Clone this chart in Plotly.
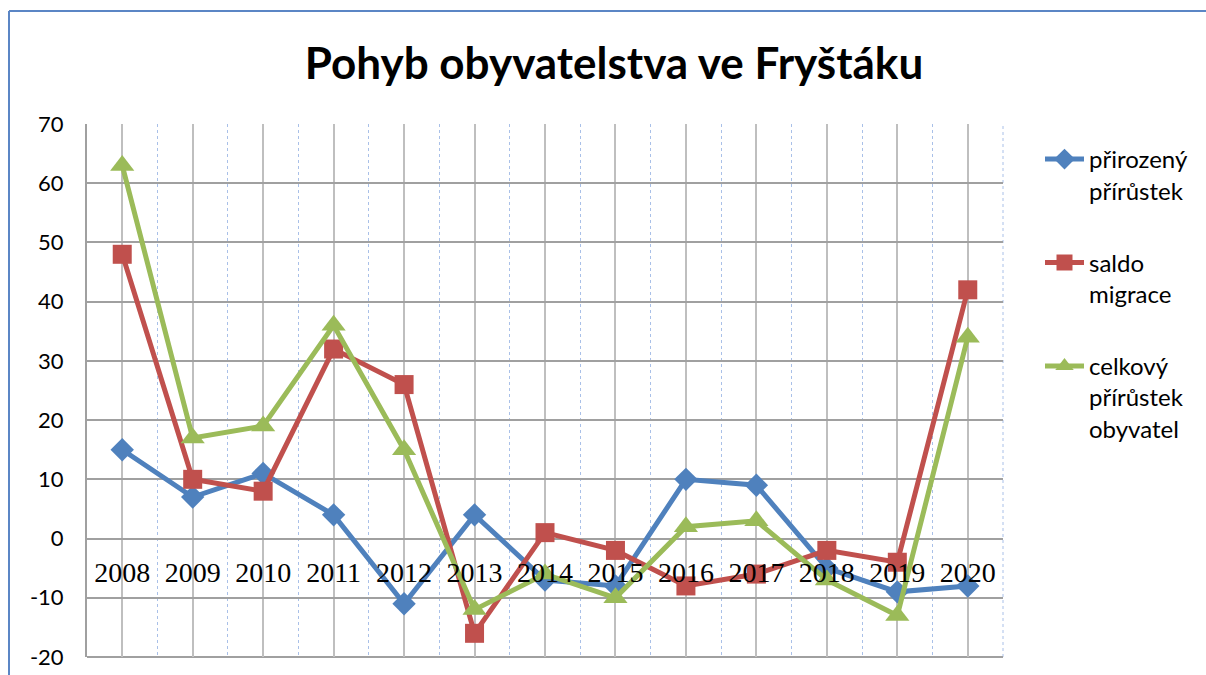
import plotly.graph_objects as go

years = ["2008", "2009", "2010", "2011", "2012", "2013", "2014",
         "2015", "2016", "2017", "2018", "2019", "2020"]
prirozeny = [15, 7, 11, 4, -11, 4, -7, -8, 10, 9, -5, -9, -8]
saldo = [48, 10, 8, 32, 26, -16, 1, -2, -8, -6, -2, -4, 42]
celkovy = [63, 17, 19, 36, 15, -12, -6, -10, 2, 3, -7, -13, 34]
series_names = ["přirozený<br>přírůstek", "saldo<br>migrace", "celkový<br>přírůstek<br>obyvatel"]
y_ticks = [-20, -10, 0, 10, 20, 30, 40, 50, 60, 70]
y_labels = ["-20", "-10", "0", "10", "20", "30", "40", "50", "60", "70"]

xs = list(range(len(years)))

colors = ["#4F81BD", "#C0504D", "#9BBB59"]
symbols = ["diamond", "square", "triangle-up"]
sizes = [18, 19, 21]

fig = go.Figure()
for i, (name, vals) in enumerate(zip(series_names, [prirozeny, saldo, celkovy])):
    fig.add_trace(go.Scatter(
        x=xs, y=vals, name=name, mode="lines+markers",
        legendgroup=f"g{i}",
        line=dict(color=colors[i], width=5),
        marker=dict(symbol=symbols[i], size=sizes[i], color=colors[i]),
    ))

W, H = 1206, 675
L, R, T, B = 87, 1003, 124, 657

fig.update_layout(
    width=W, height=H,
    margin=dict(l=L, r=W - R, t=T, b=H - B, autoexpand=False),
    paper_bgcolor="white", plot_bgcolor="white",
    font=dict(family="Lato", color="black"),
    title=dict(text="<b>Pohyb obyvatelstva ve Fryštáku</b>",
               font=dict(size=44, family="Lato", color="black"),
               x=614 / W, xanchor="center", y=1 - 64 / H, yanchor="middle"),
    showlegend=True,
    legend=dict(x=(1040 - L) / (R - L), xanchor="left",
                y=(B - 137) / (B - T), yanchor="top",
                font=dict(size=24, family="Lato", color="black"),
                itemwidth=39,
                valign="top", tracegroupgap=38, bgcolor="rgba(0,0,0,0)"),
    xaxis=dict(
        range=[-0.5, len(years) - 0.5],
        tickvals=xs, ticktext=years,
        anchor="free", position=20 / 90, automargin=False,
        showline=False, zeroline=False,
        showgrid=True, gridcolor="#BFBFBF", gridwidth=2,
        ticks="", ticklabelstandoff=14,
        tickfont=dict(family="Liberation Serif", size=28, color="black"),
        minor=dict(tickvals=[x + 0.5 for x in xs[:-1]] + [len(years) - 0.5],
                   showgrid=True, gridcolor="#A9C0E8", griddash="dot", gridwidth=1),
    ),
    yaxis=dict(
        range=[-20, 70], tickvals=y_ticks, ticktext=y_labels, automargin=False,
        showgrid=True, gridcolor="#A0A0A0", gridwidth=2,
        zeroline=True, zerolinecolor="#A0A0A0", zerolinewidth=2,
        showline=True, linecolor="#A0A0A0", linewidth=2,
        ticks="", ticklabelstandoff=17,
        tickfont=dict(family="Lato", size=22, color="black"),
    ),
    shapes=[
        dict(type="line", xref="paper", yref="paper",
             x0=(9 - L) / (R - L), x1=(W + 5 - L) / (R - L),
             y0=(B - 11) / (B - T), y1=(B - 11) / (B - T),
             line=dict(color="#5B86C5", width=2)),
        dict(type="line", xref="paper", yref="paper",
             x0=(9 - L) / (R - L), x1=(9 - L) / (R - L),
             y0=(B - 11) / (B - T), y1=(B - H - 5) / (B - T),
             line=dict(color="#5B86C5", width=2)),
        dict(type="line", xref="paper", yref="paper",
             x0=1, x1=1, y0=0, y1=1, layer="below",
             line=dict(color="#A9C0E8", width=1, dash="dot")),
        dict(type="line", xref="paper", yref="paper",
             x0=0, x1=1, y0=0, y1=0, layer="below",
             line=dict(color="#A0A0A0", width=2)),
    ],
)

fig.write_html("out.html", config={"displayModeBar": False},
               post_script="document.body.style.margin='0';document.body.style.overflow='hidden';")
